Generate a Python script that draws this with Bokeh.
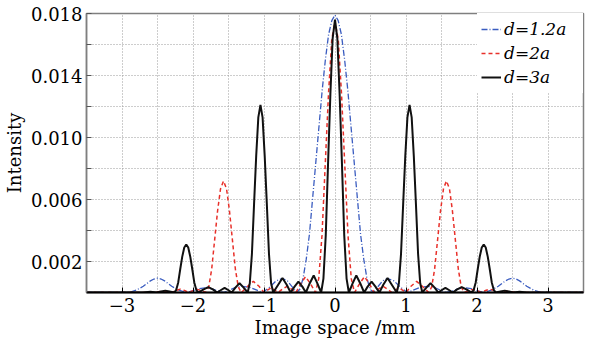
from bokeh.plotting import figure
from bokeh.models import FixedTicker, Legend, LegendItem
from bokeh.embed import file_html
from bokeh.resources import INLINE

# ---------------- data ----------------
x_ticks = [-3, -2, -1, 0, 1, 2, 3]
x_tick_labels = ["\u22123", "\u22122", "\u22121", "0", "1", "2", "3"]
x_minor = [-2.5, -1.5, -0.5, 0.5, 1.5, 2.5]
y_ticks = [0.002, 0.006, 0.010, 0.014, 0.018]
y_tick_labels = ["0.002", "0.006", "0.010", "0.014", "0.018"]
y_minor = [0.004, 0.008, 0.012, 0.016]

series_labels = ["d=1.2a", "d=2a", "d=3a"]

# d = 1.2a (blue, dash-dot)
blue_x = [-3.5, -2.9, -2.8, -2.7, -2.6, -2.55, -2.5, -2.45, -2.4, -2.3, -2.2, -2.1,
          -2.01, -1.92, -1.83, -1.74, -1.65, -1.57, -1.5, -1.4, -1.3, -1.2, -1.1, -1.02,
          -0.92, -0.83, -0.74, -0.67, -0.6, -0.54,
          -0.495, -0.45, -0.405, -0.36, -0.315, -0.27, -0.225, -0.18, -0.135, -0.09, -0.045, 0,
          0.045, 0.09, 0.135, 0.18, 0.225, 0.27, 0.315, 0.36, 0.405, 0.45, 0.495,
          0.54, 0.6, 0.67, 0.74, 0.83, 0.92,
          1.02, 1.1, 1.2, 1.3, 1.4, 1.5, 1.57, 1.65, 1.74, 1.83, 1.92, 2.01,
          2.1, 2.2, 2.3, 2.4, 2.45, 2.5, 2.55, 2.6, 2.7, 2.8, 2.9, 3.5]
blue_y = [0, 0, 0.00015, 0.0004, 0.00075, 0.00087, 0.00092, 0.00087, 0.00075, 0.0004, 0.00015, 0,
          0.0001, 0.00025, 0.0003, 0.00025, 0.0001, 0, 0.00012, 0.00033, 0.0004, 0.00033, 0.00015, 0,
          0.00035, 0.00075, 0.0009, 0.00075, 0.00035, 0,
          0.00021, 0.0009, 0.00215, 0.00376, 0.00609, 0.00841, 0.01074, 0.01307, 0.01504, 0.01665, 0.01754, 0.0179,
          0.01754, 0.01665, 0.01504, 0.01307, 0.01074, 0.00841, 0.00609, 0.00376, 0.00215, 0.0009, 0.00021,
          0, 0.00035, 0.00075, 0.0009, 0.00075, 0.00035,
          0, 0.00015, 0.00033, 0.0004, 0.00033, 0.00012, 0, 0.0001, 0.00025, 0.0003, 0.00025, 0.0001,
          0, 0.00015, 0.0004, 0.00075, 0.00087, 0.00092, 0.00087, 0.00075, 0.0004, 0.00015, 0, 0]

# d = 2a (red, dashed)
red_x = [-3.5, -2.55, -2.49, -2.43, -2.37, -2.3, -2.24, -2.18, -2.12, -2.06, -2.0, -1.94, -1.88,
         -1.82, -1.778, -1.737, -1.695, -1.653, -1.612, -1.57, -1.528, -1.487, -1.445, -1.403, -1.362, -1.32,
         -1.23, -1.15, -1.07, -1.0, -0.95, -0.9, -0.85, -0.8, -0.74, -0.675, -0.61, -0.55, -0.485, -0.415, -0.345,
         -0.275, -0.229, -0.183, -0.138, -0.092, -0.046, 0, 0.046, 0.092, 0.138, 0.183, 0.229, 0.275,
         0.345, 0.415, 0.485, 0.55, 0.61, 0.675, 0.74, 0.8, 0.85, 0.9, 0.95, 1.0, 1.07, 1.15, 1.23,
         1.32, 1.362, 1.403, 1.445, 1.487, 1.528, 1.57, 1.612, 1.653, 1.695, 1.737, 1.778, 1.82,
         1.88, 1.94, 2.0, 2.06, 2.12, 2.18, 2.24, 2.3, 2.37, 2.43, 2.49, 2.55, 3.5]
red_y = [0, 0, 0.00005, 0.00008, 0.00005, 0, 0.00013, 0.00022, 0.00013, 0, 0.00012, 0.0002, 0.00012,
         0, 0.00036, 0.0015, 0.0034, 0.0053, 0.0067, 0.0072, 0.0067, 0.0053, 0.0034, 0.0015, 0.00036, 0,
         0.0004, 0.00072, 0.0004, 0, 0.00016, 0.0003, 0.00016, 0, 0.00022, 0.0004, 0.00022, 0, 0.00056, 0.00102, 0.00056,
         0, 0.0009, 0.0037, 0.0082, 0.0128, 0.0163, 0.0175, 0.0163, 0.0128, 0.0082, 0.0037, 0.0009, 0,
         0.00056, 0.00102, 0.00056, 0, 0.00022, 0.0004, 0.00022, 0, 0.00016, 0.0003, 0.00016, 0, 0.0004, 0.00072, 0.0004,
         0, 0.00036, 0.0015, 0.0034, 0.0053, 0.0067, 0.0072, 0.0067, 0.0053, 0.0034, 0.0015, 0.00036, 0,
         0.00012, 0.0002, 0.00012, 0, 0.00013, 0.00022, 0.00013, 0, 0.00005, 0.00008, 0.00005, 0, 0]

# d = 3a (black, solid)
black_x = [-3.5, -2.7, -2.6, -2.51, -2.45, -2.39, -2.33,
           -2.265, -2.237, -2.208, -2.18, -2.152, -2.123, -2.095, -2.067, -2.038, -2.01, -1.982, -1.953, -1.925,
           -1.85, -1.785, -1.72, -1.66, -1.605, -1.555, -1.505, -1.455, -1.4, -1.345, -1.29,
           -1.23, -1.2, -1.17, -1.14, -1.11, -1.08, -1.05, -1.02, -0.99, -0.96, -0.93, -0.9, -0.87,
           -0.8, -0.74, -0.68, -0.625, -0.57, -0.515, -0.46, -0.41, -0.355, -0.3, -0.25,
           -0.195, -0.163, -0.13, -0.098, -0.065, -0.033, 0, 0.033, 0.065, 0.098, 0.13, 0.163, 0.195,
           0.25, 0.3, 0.355, 0.41, 0.46, 0.515, 0.57, 0.625, 0.68, 0.74, 0.8,
           0.87, 0.9, 0.93, 0.96, 0.99, 1.02, 1.05, 1.08, 1.11, 1.14, 1.17, 1.2, 1.23,
           1.29, 1.345, 1.4, 1.455, 1.505, 1.555, 1.605, 1.66, 1.72, 1.785, 1.85,
           1.925, 1.953, 1.982, 2.01, 2.038, 2.067, 2.095, 2.123, 2.152, 2.18, 2.208, 2.237, 2.265,
           2.33, 2.39, 2.45, 2.51, 2.6, 2.7, 3.5]
black_y = [0, 0, 0.00005, 0, 0.00007, 0.00012, 0.00007,
           0, 0.00016, 0.00065, 0.0015, 0.0023, 0.0029, 0.0031, 0.0029, 0.0023, 0.0015, 0.00065, 0.00016, 0,
           0.0002, 0.00035, 0.0002, 0, 0.00016, 0.0003, 0.00016, 0, 0.00033, 0.0006, 0.00033,
           0, 0.0006, 0.0025, 0.0057, 0.0088, 0.0113, 0.0121, 0.0113, 0.0088, 0.0057, 0.0025, 0.0006, 0,
           0.0005, 0.00093, 0.0005, 0, 0.00038, 0.0007, 0.00038, 0, 0.0006, 0.0011, 0.0006,
           0, 0.0009, 0.0037, 0.0083, 0.0128, 0.0164, 0.0176, 0.0164, 0.0128, 0.0083, 0.0037, 0.0009, 0,
           0.0006, 0.0011, 0.0006, 0, 0.00038, 0.0007, 0.00038, 0, 0.0005, 0.00093, 0.0005,
           0, 0.0006, 0.0025, 0.0057, 0.0088, 0.0113, 0.0121, 0.0113, 0.0088, 0.0057, 0.0025, 0.0006, 0,
           0.00033, 0.0006, 0.00033, 0, 0.00016, 0.0003, 0.00016, 0, 0.0002, 0.00035, 0.0002,
           0, 0.00016, 0.00065, 0.0015, 0.0023, 0.0029, 0.0031, 0.0029, 0.0023, 0.0015, 0.00065, 0.00016, 0,
           0.00007, 0.00012, 0.00007, 0, 0.00005, 0, 0]

# ---------------- figure ----------------
FONT = "DejaVu Serif"

p = figure(width=592, height=341, x_range=(-3.5, 3.5), y_range=(0, 0.018),
           output_backend="svg", toolbar_location=None,
           min_border_left=82, min_border_right=9, min_border_top=13, min_border_bottom=49,
           x_axis_label="Image space /mm", y_axis_label="Intensity")
p.background_fill_color = "white"
p.border_fill_color = "white"
p.outline_line_color = "#7f7f7f"
p.outline_line_width = 1.5

# axes
for ax in (p.xaxis[0], p.yaxis[0]):
    ax.axis_label_text_font = FONT
    ax.axis_label_text_font_style = "normal"
    ax.axis_label_text_font_size = "18px"
    ax.axis_label_text_color = "black"
    ax.major_label_text_font = FONT
    ax.major_label_text_font_style = "normal"
    ax.major_label_text_font_size = "18px"
    ax.major_label_text_color = "black"
    ax.major_tick_out = 0
    ax.major_tick_in = 5
    ax.minor_tick_out = 0

p.xaxis.ticker = FixedTicker(ticks=x_ticks, minor_ticks=x_minor)
p.xaxis.major_label_overrides = {t: l for t, l in zip(x_ticks, x_tick_labels)}
p.xaxis.axis_line_color = "black"
p.xaxis.axis_line_width = 2
p.xaxis.major_tick_line_color = "black"
p.xaxis.minor_tick_in = 0
p.xaxis.major_label_standoff = 5
p.xaxis.axis_label_standoff = 2

p.yaxis.ticker = FixedTicker(ticks=y_ticks, minor_ticks=y_minor)
p.yaxis.major_label_overrides = {t: l for t, l in zip(y_ticks, y_tick_labels)}
p.yaxis.axis_line_color = "#7f7f7f"
p.yaxis.axis_line_width = 1.5
p.yaxis.major_tick_line_color = "#555555"
p.yaxis.minor_tick_line_color = "#555555"
p.yaxis.minor_tick_in = 5
p.yaxis.major_label_standoff = 4
p.yaxis.axis_label_standoff = 3

# grid
for g in (p.xgrid[0], p.ygrid[0]):
    g.grid_line_color = "#9a9a9a"
    g.grid_line_dash = "1 2"
    g.grid_line_width = 1
    g.minor_grid_line_color = "#9a9a9a"
    g.minor_grid_line_dash = "1 2"
    g.minor_grid_line_width = 1

# curves
r_blue = p.line(blue_x, blue_y, line_color="#3a5cc0", line_width=1.3, line_dash="6 2 1 2")
r_red = p.line(red_x, red_y, line_color="#e8302a", line_width=1.5, line_dash="4 3")
r_black = p.line(black_x, black_y, line_color="#111111", line_width=2)

legend = Legend(items=[LegendItem(label=series_labels[0], renderers=[r_blue]),
                       LegendItem(label=series_labels[1], renderers=[r_red]),
                       LegendItem(label=series_labels[2], renderers=[r_black])],
                location="top_right", margin=0, padding=4, spacing=0,
                glyph_width=20, glyph_height=20, label_standoff=3,
                label_width=75, label_height=24,
                label_text_font=FONT, label_text_font_size="17px",
                label_text_font_style="italic", label_text_color="black",
                border_line_alpha=0, background_fill_color="white", background_fill_alpha=1)
p.add_layout(legend)

open("out.html", "w").write(file_html(p, INLINE))
